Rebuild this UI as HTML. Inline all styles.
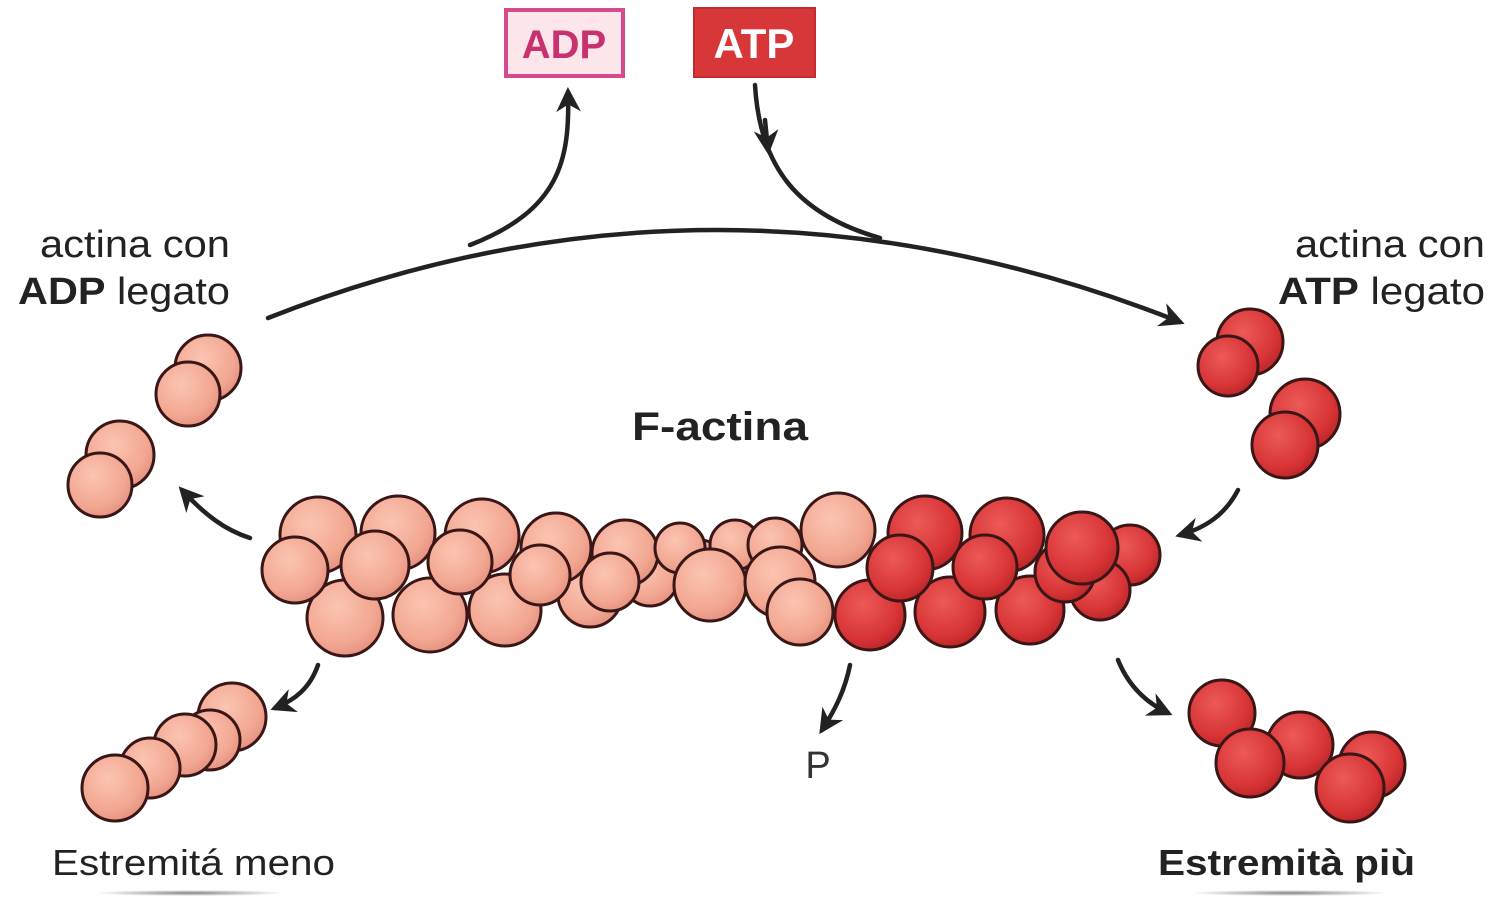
<!DOCTYPE html>
<html><head><meta charset="utf-8"><style>
html,body{margin:0;padding:0;background:#fff}
svg{display:block}
text{font-family:"Liberation Sans","DejaVu Sans",sans-serif}
</style></head><body>
<svg width="1499" height="912" viewBox="0 0 1499 912" xmlns="http://www.w3.org/2000/svg">
<defs>
<radialGradient id="pk" cx="0.4" cy="0.35" r="0.7"><stop offset="0" stop-color="#fbc4b2"/><stop offset="0.7" stop-color="#f2a792"/><stop offset="1" stop-color="#e38f7e"/></radialGradient>
<radialGradient id="rd" cx="0.4" cy="0.35" r="0.7"><stop offset="0" stop-color="#ec5a58"/><stop offset="0.7" stop-color="#d83436"/><stop offset="1" stop-color="#b82427"/></radialGradient>
<marker id="ah" viewBox="0 0 10 10" refX="8" refY="5" markerWidth="5.5" markerHeight="5.5" orient="auto"><path d="M0,0 L10,5 L0,10 L3,5 z" fill="#222"/></marker>
<radialGradient id="sh" cx="0.5" cy="0.5" r="0.5"><stop offset="0" stop-color="#333" stop-opacity="0.6"/><stop offset="1" stop-color="#333" stop-opacity="0"/></radialGradient>
</defs>
<rect x="506" y="10" width="117" height="66" fill="#fde6ea" stroke="#d64a8c" stroke-width="4"/>
<text x="564" y="58" font-size="40" font-weight="bold" fill="#c9306e" text-anchor="middle">ADP</text>
<rect x="694" y="8" width="121" height="69" fill="#d8373a" stroke="#c42a2e" stroke-width="2"/>
<text x="754" y="58" font-size="42" font-weight="bold" fill="#fff" text-anchor="middle">ATP</text>
<g fill="none" stroke="#222" stroke-width="4.5" stroke-linecap="round">
<path d="M268,318 Q720,140 1180,322" marker-end="url(#ah)"/>
<path d="M470,245 C560,210 570,160 568,92" marker-end="url(#ah)"/>
<path d="M755,85 C760,170 800,215 880,238"/>
<path d="M765,120 L768,150" marker-end="url(#ah)"/>
<path d="M250,538 C225,530 205,515 182,490" marker-end="url(#ah)"/>
<path d="M1238,490 C1225,515 1205,528 1180,535" marker-end="url(#ah)"/>
<path d="M318,665 C310,688 295,700 275,708" marker-end="url(#ah)"/>
<path d="M850,665 C845,690 835,710 822,730" marker-end="url(#ah)"/>
<path d="M1118,660 C1128,685 1145,702 1168,713" marker-end="url(#ah)"/>
</g>
<text x="40" y="257" font-size="38" fill="#222" textLength="190" lengthAdjust="spacingAndGlyphs">actina con</text>
<text x="18" y="304" font-size="38" fill="#222" textLength="212" lengthAdjust="spacingAndGlyphs"><tspan font-weight="bold">ADP</tspan> legato</text>
<text x="1295" y="257" font-size="38" fill="#222" textLength="190" lengthAdjust="spacingAndGlyphs">actina con</text>
<text x="1278" y="304" font-size="38" fill="#222" textLength="207" lengthAdjust="spacingAndGlyphs"><tspan font-weight="bold">ATP</tspan> legato</text>
<text x="632" y="440" font-size="40" font-weight="bold" fill="#222" textLength="176" lengthAdjust="spacingAndGlyphs">F-actina</text>
<text x="818" y="778" font-size="38" fill="#333" text-anchor="middle">P</text>
<text x="52" y="875" font-size="36" fill="#222" textLength="283" lengthAdjust="spacingAndGlyphs">Estremitá meno</text>
<text x="1158" y="875" font-size="36" font-weight="bold" fill="#222" textLength="257" lengthAdjust="spacingAndGlyphs">Estremità più</text>
<ellipse cx="190" cy="893" rx="95" ry="3" fill="url(#sh)"/>
<ellipse cx="1290" cy="893" rx="100" ry="3" fill="url(#sh)"/>
<g stroke="#3a1616" stroke-width="3">
<g fill="url(#rd)">
<circle cx="1130" cy="555" r="30"/><circle cx="1100" cy="590" r="30"/>
<circle cx="925" cy="533" r="37"/><circle cx="1007" cy="535" r="37"/>
<circle cx="870" cy="615" r="35"/><circle cx="950" cy="612" r="35"/><circle cx="1030" cy="610" r="34"/>
<circle cx="985" cy="567" r="32"/><circle cx="1065" cy="572" r="30"/><circle cx="1082" cy="548" r="36"/>
<circle cx="900" cy="568" r="33"/>
</g>
<g fill="url(#pk)">
<circle cx="345" cy="618" r="38"/><circle cx="430" cy="615" r="37"/><circle cx="505" cy="610" r="36"/>
<circle cx="590" cy="595" r="32"/><circle cx="650" cy="578" r="28"/><circle cx="700" cy="565" r="25"/><circle cx="760" cy="560" r="28"/>
<circle cx="318" cy="535" r="38"/><circle cx="398" cy="533" r="37"/><circle cx="482" cy="536" r="37"/>
<circle cx="556" cy="548" r="35"/><circle cx="625" cy="553" r="33"/><circle cx="680" cy="548" r="25"/><circle cx="735" cy="545" r="25"/><circle cx="775" cy="545" r="27"/>
<circle cx="838" cy="530" r="37"/>
<circle cx="295" cy="570" r="33"/><circle cx="375" cy="565" r="34"/><circle cx="460" cy="562" r="32"/>
<circle cx="540" cy="575" r="30"/><circle cx="610" cy="582" r="29"/><circle cx="710" cy="585" r="36"/>
<circle cx="780" cy="582" r="35"/><circle cx="800" cy="612" r="33"/>
<circle cx="208" cy="368" r="33"/><circle cx="188" cy="394" r="32"/>
<circle cx="120" cy="455" r="34"/><circle cx="100" cy="485" r="32"/>
<circle cx="232" cy="717" r="34"/><circle cx="210" cy="740" r="30"/><circle cx="185" cy="745" r="31"/><circle cx="150" cy="768" r="30"/><circle cx="115" cy="788" r="33"/>
</g>
<g fill="url(#rd)">
<circle cx="1250" cy="342" r="33"/><circle cx="1228" cy="366" r="30"/>
<circle cx="1305" cy="414" r="35"/><circle cx="1285" cy="445" r="33"/>
<circle cx="1222" cy="713" r="33"/><circle cx="1300" cy="745" r="33"/><circle cx="1250" cy="763" r="34"/>
<circle cx="1372" cy="765" r="33"/><circle cx="1350" cy="788" r="34"/>
</g>
</g>
</svg>
</body></html>
